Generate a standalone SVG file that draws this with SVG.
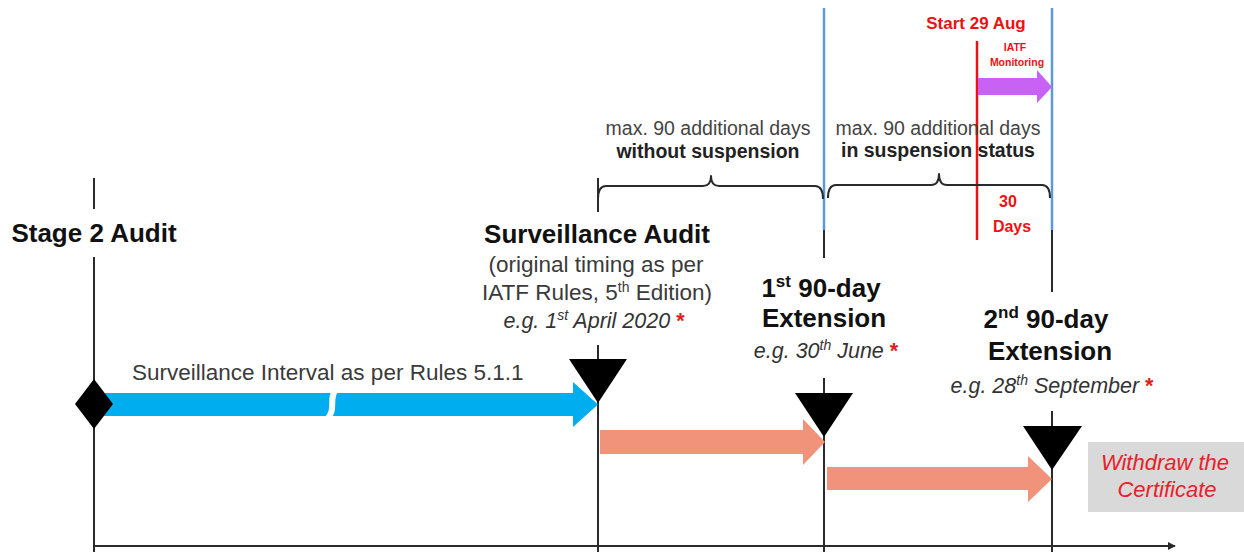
<svg xmlns="http://www.w3.org/2000/svg" width="1244" height="552" viewBox="0 0 1244 552">
<style>
  text { font-family: "Liberation Sans", Arial, sans-serif; }
  .head { font-size: 26px; font-weight: bold; fill: #111; text-anchor: middle; }
  .sub { font-size: 22.5px; fill: #3a3a3a; text-anchor: middle; }
  .eg { font-size: 21.5px; font-style: italic; fill: #333; text-anchor: middle; }
  .star { fill: #e02020; font-style: normal; font-weight: bold; }
  .note { font-size: 19.5px; fill: #444; text-anchor: middle; }
  .noteb { font-size: 19.5px; font-weight: bold; fill: #222; text-anchor: middle; }
  .red { fill: #ee1111; font-weight: bold; text-anchor: middle; }
  .line { stroke: #2a2a2a; stroke-width: 2; fill: none; }
  .blue { stroke: #5b9bd5; stroke-width: 2.5; fill: none; }
  .brace { stroke: #2a2a2a; stroke-width: 2; fill: none; stroke-linejoin: round; }
  .tri { fill: #000; }
  .salmon { fill: #f0937a; }
</style>
<defs>
  <marker id="axisHead" viewBox="0 0 10 10" refX="9" refY="5" markerWidth="8" markerHeight="8" markerUnits="userSpaceOnUse" orient="auto">
    <path d="M0,0 L10,5 L0,10 Z" fill="#2a2a2a"/>
  </marker>
</defs>
<rect x="0" y="0" width="1244" height="552" fill="#fff"/>

<g id="connectors">
  <line class="line" x1="94" y1="546" x2="1175" y2="546" marker-end="url(#axisHead)"/>
  <line class="line" x1="94" y1="178" x2="94" y2="209"/>
  <line class="line" x1="94" y1="257" x2="94" y2="552"/>
  <line class="line" x1="598" y1="178" x2="598" y2="212"/>
  <line class="line" x1="598" y1="345" x2="598" y2="552"/>
  <line class="blue" x1="824" y1="8" x2="824" y2="230"/>
  <line class="line" x1="824" y1="230" x2="824" y2="258"/>
  <line class="line" x1="824" y1="378" x2="824" y2="552"/>
  <line class="blue" x1="1052" y1="8" x2="1052" y2="230"/>
  <line class="line" x1="1052" y1="230" x2="1052" y2="292"/>
  <line class="line" x1="1052" y1="411" x2="1052" y2="552"/>
  <line x1="977" y1="41" x2="977" y2="240" stroke="#ee1111" stroke-width="2.5"/>
  <path class="brace" d="M598,199 Q598,186 606,186 H703 Q711,186 711,176 Q711,186 719,186 H815 Q823,186 823,199"/>
  <path class="brace" d="M828,198 Q828,185 836,185 H931 Q939,185 939,174 Q939,185 947,185 H1042 Q1050,185 1050,198"/>
  <path d="M100,393 H573 V382 L598,404.5 L573,427 V416 H100 Z" fill="#00aeef"/>
  <path d="M336,390 C328,398 337,409 327,419" stroke="#fff" stroke-width="6" fill="none"/>
  <path class="salmon" d="M600,430 H803 V419 L825,442 L803,465 V454 H600 Z"/>
  <path class="salmon" d="M827,467 H1028 V456 L1052,479 L1028,502 V490 H827 Z"/>
  <path d="M978,78 H1037 V70 L1052,87 L1037,103 V95 H978 Z" fill="#c862f5"/>
</g>

<g id="stage2">
  <path class="tri" d="M94,379 L113,404 L94,429 L75,404 Z"/>
  <text class="head" x="94" y="242">Stage 2 Audit</text>
  <text x="132" y="380" font-size="22.5" fill="#3a3a3a">Surveillance Interval as per Rules 5.1.1</text>
</g>

<g id="surveillance">
  <path class="tri" d="M569,359 L627,359 L598,403 Z"/>
  <text class="head" x="597" y="243">Surveillance Audit</text>
  <text class="sub" x="596" y="272">(original timing as per</text>
  <text class="sub" x="597" y="300">IATF Rules, 5<tspan font-size="14" dy="-8">th</tspan><tspan dy="8"> Edition)</tspan></text>
  <text class="eg" x="594" y="328">e.g. 1<tspan font-size="14" dy="-8">st</tspan><tspan dy="8"> April 2020 </tspan><tspan class="star">*</tspan></text>
</g>

<g id="ext1">
  <path class="tri" d="M795,393 L853,393 L824,437 Z"/>
  <text class="head" x="821" y="297">1<tspan font-size="17" dy="-10">st</tspan><tspan dy="10"> 90-day</tspan></text>
  <text class="head" x="824" y="327">Extension</text>
  <text class="eg" x="826" y="358">e.g. 30<tspan font-size="14" dy="-8">th</tspan><tspan dy="8"> June </tspan><tspan class="star">*</tspan></text>
</g>

<g id="ext2">
  <path class="tri" d="M1023,426 L1082,426 L1052,470 Z"/>
  <text class="head" x="1046" y="328">2<tspan font-size="17" dy="-10">nd</tspan><tspan dy="10"> 90-day</tspan></text>
  <text class="head" x="1050" y="360">Extension</text>
  <text class="eg" x="1052" y="393">e.g. 28<tspan font-size="14" dy="-8">th</tspan><tspan dy="8"> September </tspan><tspan class="star">*</tspan></text>
</g>

<g id="without-suspension">
  <text class="note" x="708" y="135">max. 90 additional days</text>
  <text class="noteb" x="708" y="158">without suspension</text>
</g>

<g id="in-suspension">
  <text class="note" x="938" y="135">max. 90 additional days</text>
  <text class="noteb" x="938" y="157">in suspension status</text>
</g>

<g id="monitoring">
  <text class="red" x="976" y="29" font-size="17">Start 29 Aug</text>
  <text class="red" x="1015" y="51" font-size="10.5">IATF</text>
  <text class="red" x="1017" y="66" font-size="10.5">Monitoring</text>
  <text class="red" x="1008" y="207" font-size="16">30</text>
  <text class="red" x="1012" y="232" font-size="16">Days</text>
</g>

<g id="withdraw">
  <rect x="1088" y="442" width="156" height="70" fill="#d9d9d9"/>
  <text x="1165" y="470" font-size="22" font-style="italic" fill="#e8202a" text-anchor="middle">Withdraw the</text>
  <text x="1167" y="497" font-size="22" font-style="italic" fill="#e8202a" text-anchor="middle">Certificate</text>
</g>
</svg>
